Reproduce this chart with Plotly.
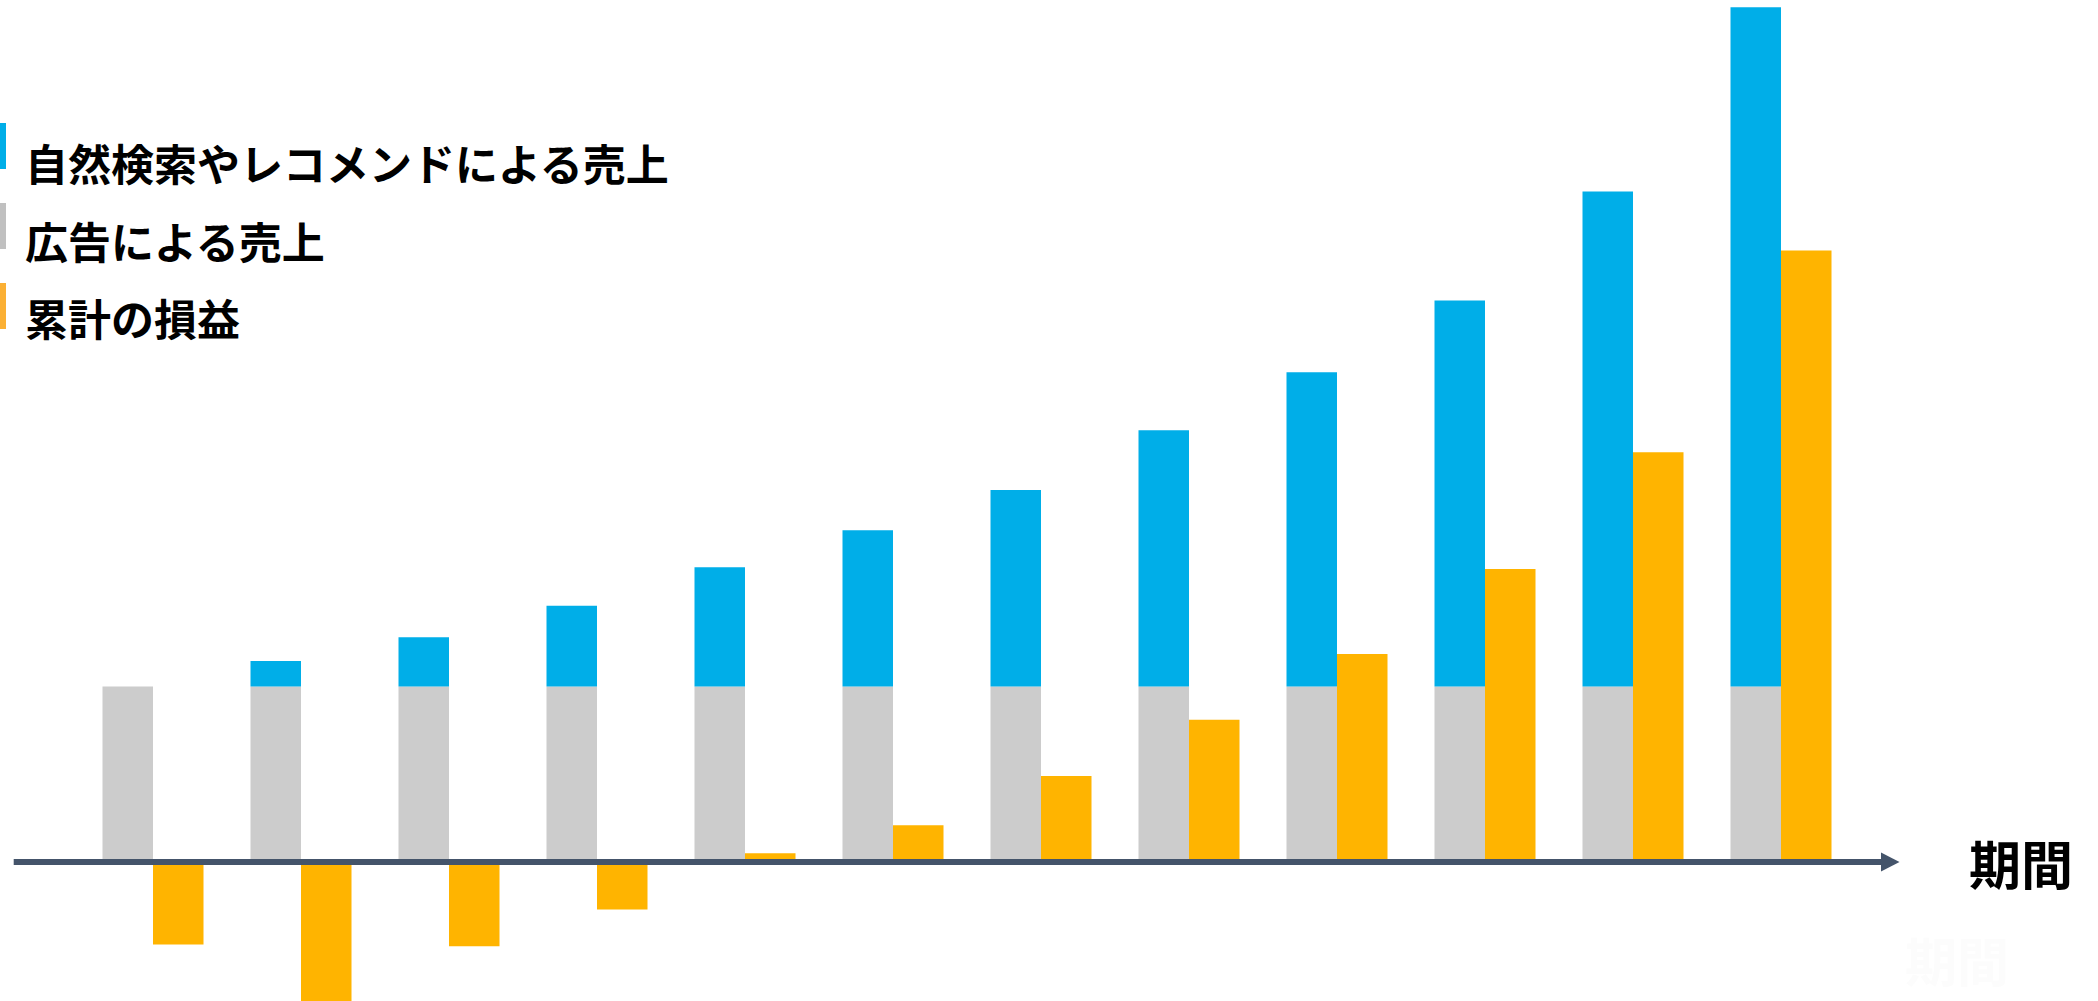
import plotly.graph_objects as go

# ---- data ----
periods = list(range(12))
ad_sales = [100] * 12
organic_sales = [0, 14.5, 28, 46, 68, 89, 112, 146, 179, 220, 282, 387]
cumulative_pl = [-47, -90, -48, -27, 5, 21, 49, 81, 118.5, 167, 233.5, 348.5]
series_names = ["自然検索やレコメンドによる売上", "広告による売上", "累計の損益"]
axis_label = "期間"

# ---- styling ----
W, H = 2098, 1001
BLUE = "#00AEE8"
GRAY = "#CCCCCC"
ORANGE = "#FFB400"
AXIS = "#44546A"
FONT = "Noto Sans CJK JP"

px_per_period = 148.0
first_center_px = 153.0
bar_w = 50.5 / px_per_period
zero_px = 862.0
px_per_unit = 1.755

def px(xp):
    return xp / W

def py(yp):
    return (H - yp) / H

fig = go.Figure()
fig.add_trace(go.Bar(x=periods, y=ad_sales, width=bar_w, offset=-bar_w,
                     marker=dict(color=GRAY, line=dict(width=0)),
                     name=series_names[1]))
fig.add_trace(go.Bar(x=periods, y=organic_sales, base=ad_sales, width=bar_w, offset=-bar_w,
                     marker=dict(color=BLUE, line=dict(width=0)),
                     name=series_names[0]))
fig.add_trace(go.Bar(x=periods, y=cumulative_pl, width=bar_w, offset=0,
                     marker=dict(color=ORANGE, line=dict(width=0)),
                     name=series_names[2]))

x_range = [-first_center_px / px_per_period, (W - first_center_px) / px_per_period]
y_range = [-(H - zero_px) / px_per_unit, zero_px / px_per_unit]

shapes = [
    # axis line
    dict(type="line", xref="paper", yref="y", x0=px(13.7), x1=px(1884), y0=0, y1=0,
         line=dict(color=AXIS, width=6), layer="above"),
    # arrow head
    dict(type="path", xref="paper", yref="paper",
         path=f"M {px(1881)} {py(852.5)} L {px(1899.5)} {py(862)} L {px(1881)} {py(871.5)} Z",
         fillcolor=AXIS, line=dict(width=0), layer="above"),
]
legend_colors = [BLUE, "#C0C0C0", "#FBB034"]
legend_marker_y = [(123, 169), (203, 249), (283, 329)]
legend_text_y = [162, 240, 317]
for c, (y0, y1) in zip(legend_colors, legend_marker_y):
    shapes.append(dict(type="rect", xref="paper", yref="paper",
                       x0=px(0), x1=px(6), y0=py(y1), y1=py(y0),
                       fillcolor=c, line=dict(width=0)))

annotations = []
for name, ty in zip(series_names, legend_text_y):
    annotations.append(dict(text=f"<b>{name}</b>", xref="paper", yref="paper",
                            x=px(23), y=py(ty), xanchor="left", yanchor="middle",
                            showarrow=False, font=dict(family=FONT, size=43, color="#000000")))
annotations.append(dict(text=f"<b>{axis_label}</b>", xref="paper", yref="paper",
                        x=px(2021), y=py(862), xanchor="center", yanchor="middle",
                        showarrow=False, font=dict(family=FONT, size=52, color="#000000")))
annotations.append(dict(text=f"<b>{axis_label}</b>", xref="paper", yref="paper",
                        x=px(1957), y=py(959), xanchor="center", yanchor="middle",
                        showarrow=False, font=dict(family=FONT, size=52, color="#FCFCFC")))

fig.update_layout(
    width=W, height=H, autosize=False,
    margin=dict(l=0, r=0, t=0, b=0, pad=0),
    paper_bgcolor="white", plot_bgcolor="white",
    barmode="overlay", showlegend=False,
    xaxis=dict(range=x_range, visible=False, fixedrange=True),
    yaxis=dict(range=y_range, visible=False, fixedrange=True),
    shapes=shapes, annotations=annotations,
)

fig.write_html("out.html", config={"displayModeBar": False})

# remove the browser's default body margin so the figure fills the window exactly
with open("out.html", encoding="utf-8") as f:
    html = f.read()
html = html.replace("<body>", '<body style="margin:0;padding:0;overflow:hidden;">', 1)
with open("out.html", "w", encoding="utf-8") as f:
    f.write(html)
